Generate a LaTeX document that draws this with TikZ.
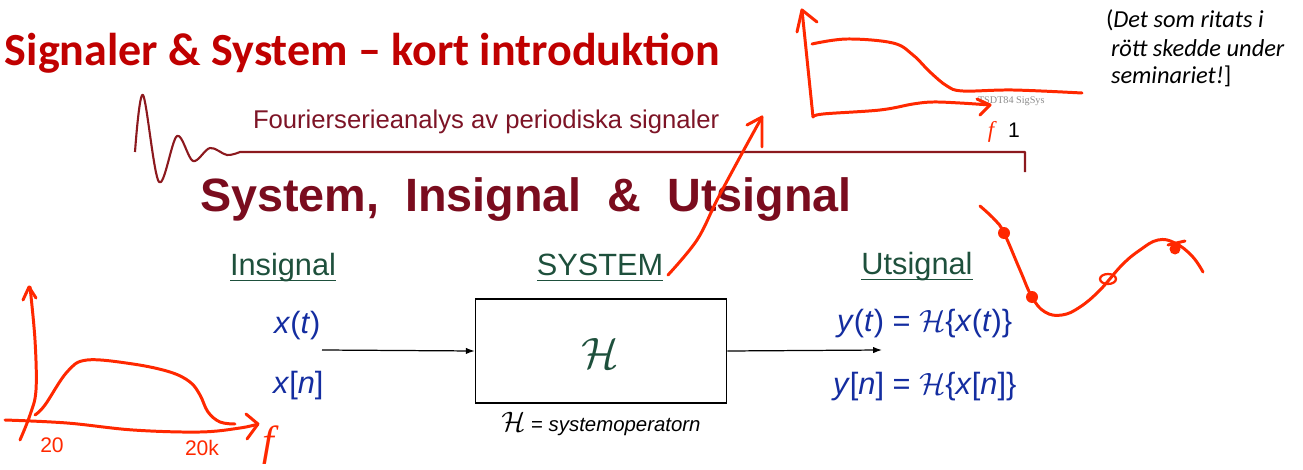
\RequirePackage{fix-cm}
\documentclass[tikz,border=0pt]{standalone}
\usepackage{fontspec}
\setmainfont{Liberation Sans}
\newfontfamily\calibri{Carlito}
\newfontfamily\timesf{Liberation Serif}
\usetikzlibrary{arrows.meta,calc}
\definecolor{titlered}{RGB}{192,0,0}
\definecolor{headred}{RGB}{122,12,30}
\definecolor{fourred}{RGB}{125,20,38}
\definecolor{wavered}{RGB}{140,25,30}
\definecolor{sysgreen}{RGB}{30,80,60}
\definecolor{sigblue}{RGB}{20,45,160}
\definecolor{inkred}{RGB}{255,40,0}
\tikzset{
  ink/.style={draw=inkred, line width=1.7pt, line cap=round, line join=round},
  txt/.style={inner sep=0pt, outer sep=0pt},
  sub/.style={txt, anchor=base, text=sysgreen, font=\fontsize{17.5}{20}\selectfont},
  sig/.style={txt, anchor=base west, text=sigblue, font=\fontsize{17.5}{20}\selectfont},
  conn/.style={draw=black, line width=0.7pt, -{Latex[length=5pt,width=3.6pt]}},
  uline/.style={draw=sysgreen, line width=1.1pt},
  notefont/.style={txt, anchor=base west, font=\calibri\fontsize{13.9}{16}\selectfont},
}
\begin{document}
\begin{tikzpicture}[x=0.02cm,y=-0.02cm]
\useasboundingbox (0,0) rectangle (1303,470);

% title
\node[txt, anchor=base west, text=titlered, font=\calibri\bfseries\fontsize{26.2}{30}\selectfont] (title) at (5,65) {Signaler \& System – kort introduktion};

% decorative wave and bracket line
\draw[draw=wavered, line width=1.2pt, line join=round]
  plot[smooth, tension=0.55] coordinates {(135,152) (143,95) (159,182) (177,136) (193,161) (210,148) (227,155) (240,152)}
  -- (1025,152) -- (1025,172);

\node[txt, anchor=base west, text=fourred, font=\fontsize{14.6}{17}\selectfont] (fourier) at (253,128) {Fourierserieanalys av periodiska signaler};

\node[txt, anchor=base west, text=headred, font=\bfseries\fontsize{26.6}{30}\selectfont] (head) at (200,211) {System,\ \ Insignal\ \ \&\ \ Utsignal};

% column headings
\node[sub] (ins) at (283,275) {Insignal};
\node[sub] (sys) at (600,275) {SYSTEM};
\node[sub] (uts) at (917,274) {Utsignal};
\draw[uline] ($(ins.base west)+(0,5.5)$) -- ($(ins.base east)+(0,5.5)$);
\draw[uline] ($(sys.base west)+(0,5.5)$) -- ($(sys.base east)+(0,5.5)$);
\draw[uline] ($(uts.base west)+(0,5.5)$) -- ($(uts.base east)+(0,5.5)$);

% signals
\node[sig] (xt) at (274,333) {\textit{x}(\textit{t})};
\node[sig] (xn) at (273,393) {\textit{x}[\textit{n}]};
\node[sig] (yt) at (837,331) {\textit{y}(\textit{t}) = $\mathcal{H}$\{\textit{x}(\textit{t})\}};
\node[sig] (yn) at (833,394) {\textit{y}[\textit{n}] = $\mathcal{H}$\{\textit{x}[\textit{n}]\}};

% system box
\node[draw=black, line width=0.9pt, minimum width=5.02cm, minimum height=2.08cm, inner sep=0pt] (box) at (601,351) {};
\node[txt, text=sysgreen, font=\fontsize{25}{28}\selectfont] (hbox) at (600,353) {$\mathcal{H}$};
\node[txt, anchor=base, font=\fontsize{11.6}{14}\selectfont] (hlabel) at (601,431) {{\fontsize{16}{18}\selectfont$\mathcal{H}$} = \textit{systemoperatorn}};

\coordinate (inS) at (322,350);
\coordinate (outE) at (882,350);
\draw[conn] (inS) -- (box.west);
\draw[conn] (box.east) -- (outE);

% note
\node[notefont] (note1) at (1106,28) {(\textit{Det som ritats i}};
\node[notefont] (note2) at (1111,56) {\textit{rött skedde under}};
\node[notefont] (note3) at (1111,83) {\textit{seminariet!}]};

% small footer text
\node[txt, anchor=base west, text=black!45, font=\timesf\fontsize{5.8}{7}\selectfont] (foot) at (978,103) {TSDT84 SigSys};
\node[txt, anchor=base west, font=\fontsize{12}{14}\selectfont] (one) at (1008,137) {1};

% ---- red ink: top graph
\draw[ink] (802,10) -- (813,117);
\draw[ink] (797,32) -- (802,10) -- (817,22);
\draw[ink] plot[smooth, tension=0.6] coordinates {(813,117) (823,114) (880,110) (913,104) (933,102) (960,103) (990,105)};
\draw[ink] (977,99) -- (990,105) -- (980,115);
\draw[ink] plot[smooth, tension=0.6] coordinates {(812,44) (847,39) (893,43) (913,55) (930,72) (947,86) (963,91) (1013,90) (1082,93)};
\node[txt, anchor=base, text=inkred, font=\timesf\itshape\fontsize{13}{15}\selectfont] (ftop) at (991,137) {f};

% ---- red ink: arrow from SYSTEM
\draw[ink] plot[smooth, tension=0.6] coordinates {(668,275) (697,240) (717,200) (740,157) (762,117)};
\draw[ink] (747,125) -- (762,117) -- (762,147);

% ---- red ink: right curve with samples
\draw[ink] plot[smooth, tension=0.7] coordinates {(980,206) (995,220) (1004,233) (1020,270) (1032,297) (1045,312) (1062,315) (1080,307) (1100,290) (1122,265) (1140,250) (1158,240) (1175,243) (1192,256) (1203,272)};
\fill[inkred] (1004,233) circle (6);
\fill[inkred] (1032,297) circle (6);
\fill[inkred] (1175,249) circle (5.5);
\draw[ink] (1168,245) -- (1185,241);
\draw[ink, line width=1.3pt] (1108,279) ellipse (8 and 5);

% ---- red ink: bottom-left graph
\draw[ink] plot[smooth, tension=0.6] coordinates {(20,440) (30,415) (36,390) (35,340) (30,287)};
\draw[ink] (23,300) -- (29,287) -- (36,298);
\draw[ink] plot[smooth, tension=0.6] coordinates {(5,420) (67,423) (133,430) (200,432) (240,428) (258,424)};
\draw[ink] (246,414) -- (258,424) -- (247,439);
\draw[ink] plot[smooth, tension=0.6] coordinates {(35,415) (45,405) (67,372) (87,360) (133,364) (170,372) (190,382) (200,395) (208,412) (220,422) (235,424)};
\node[txt, anchor=base, text=inkred, font=\fontsize{12}{14}\selectfont] (l20) at (52,452) {20};
\node[txt, anchor=base, text=inkred, font=\fontsize{12}{14}\selectfont] (l20k) at (202,455) {20k};
\node[txt, anchor=base, text=inkred, font=\timesf\itshape\fontsize{24}{28}\selectfont] (fbot) at (268,455) {f};
\end{tikzpicture}
\end{document}
